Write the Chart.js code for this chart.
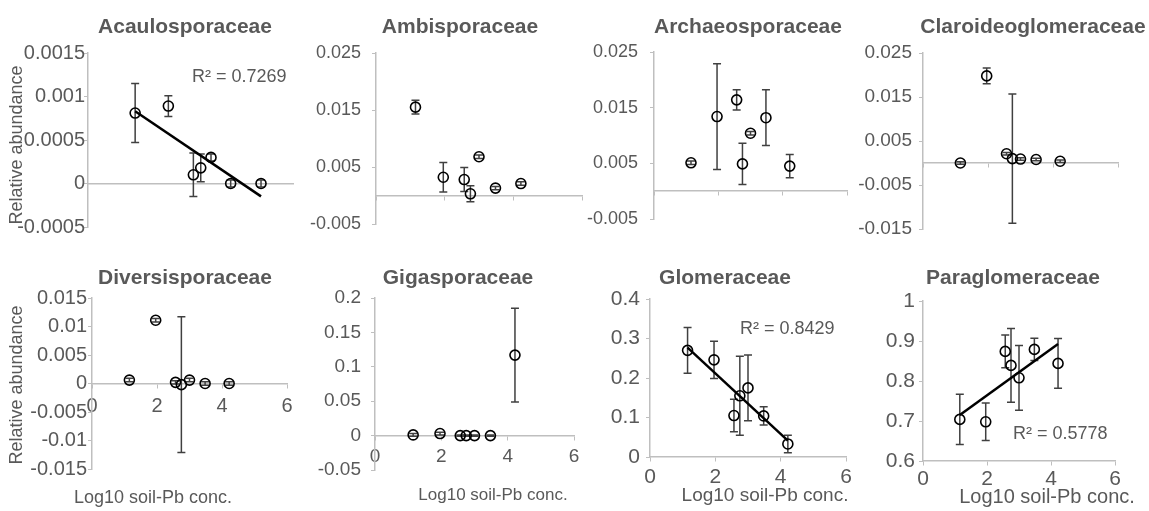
<!DOCTYPE html>
<html>
<head>
<meta charset="utf-8">
<script src="https://cdn.jsdelivr.net/npm/chart.js@4/dist/chart.umd.min.js"></script>
<style>
html,body{margin:0;padding:0;background:#fff;overflow:hidden;}
#painel{position:relative;width:1149px;height:511px;}
#painel canvas{position:absolute;left:0;top:0;}
</style>
</head>
<body>
<div id="painel"></div>
<script>

// =====================================
// DADOS
// =====================================

const logPb = [1.15, 1.96, 2.57, 2.75, 3.0, 3.48, 4.22];

const acaulo = [0.00081, 0.00089, 0.00010, 0.00018, 0.00030, 0.0000, 0.0000];
const acauloErr = [0.00034, 0.00012, 0.00025, 0.00016, 0.00004, 0.00004, 0.00004];

const ambis = [0.0155, 0.0032, 0.0028, 0.0003, 0.0068, 0.0013, 0.0021];
const ambisErr = [0.0012, 0.0026, 0.0021, 0.0014, 0.0003, 0.0003, 0.0003];

const archaeo = [0.0051, 0.0134, 0.0164, 0.0049, 0.0104, 0.0132, 0.0045];
const archaeoErr = [0.0003, 0.0095, 0.0018, 0.0037, 0.0003, 0.0050, 0.0021];

const claroideo = [0.0000, 0.0198, 0.0021, 0.0010, 0.0009, 0.0008, 0.0004];
const claroideoErr = [0.0003, 0.0018, 0.0003, 0.0147, 0.0003, 0.0003, 0.0003];

const divers = [0.0006, 0.0111, 0.0002, -0.0002, 0.0006, 0.0000, 0.0000];
const diversErr = [0.0003, 0.0003, 0.0003, 0.0119, 0.0003, 0.0003, 0.0003];

const gigas = [0.001, 0.003, 0.000, 0.000, 0.000, 0.000, 0.117];
const gigasErr = [0.002, 0.002, 0.001, 0.001, 0.001, 0.001, 0.068];

const glom = [0.270, 0.246, 0.105, 0.155, 0.175, 0.104, 0.033];
const glomErr = [0.058, 0.047, 0.041, 0.100, 0.083, 0.023, 0.022];

const paraglom = [0.704, 0.698, 0.874, 0.839, 0.808, 0.879, 0.844];
const paraglomErr = [0.063, 0.047, 0.041, 0.092, 0.081, 0.028, 0.062];

// ticks
const ticksAcaulo = [-0.0005, 0, 0.0005, 0.001, 0.0015];
const ticksAmbis = [-0.005, 0.005, 0.015, 0.025];
const ticksArchaeo = [-0.005, 0.005, 0.015, 0.025];
const ticksClaroideo = [-0.015, -0.005, 0.005, 0.015, 0.025];
const ticksDivers = [-0.015, -0.01, -0.005, 0, 0.005, 0.01, 0.015];
const ticksGigas = [-0.05, 0, 0.05, 0.1, 0.15, 0.2];
const ticksGlom = [0, 0.1, 0.2, 0.3, 0.4];
const ticksParaglom = [0.6, 0.7, 0.8, 0.9, 1];

const ticksX5 = [0, 1, 2, 3, 4, 5];
const ticksX6 = [0, 2, 4, 6];

const tituloX = "Log10 soil-Pb conc.";
const tituloY = "Relative abundance";


// =====================================
// PAINEIS (layout)
// =====================================

const paineis = [
    {nome:"Acaulosporaceae", y:acaulo, err:acauloErr, ticks:ticksAcaulo, xt:ticksX5,
     area:[88,53,293,227], titulo:[185,27], fonte:20, gap:3, marcasX:false, rotX:false,
     r2:["R² = 0.7269",192,77], yTit:[17,145]},
    {nome:"Ambisporaceae", y:ambis, err:ambisErr, ticks:ticksAmbis, xt:ticksX6,
     area:[376,53,582,224], titulo:[460,27], fonte:18, gap:15, marcasX:true, rotX:false},
    {nome:"Archaeosporaceae", y:archaeo, err:archaeoErr, ticks:ticksArchaeo, xt:ticksX6,
     area:[654,52,847,219], titulo:[748,27], fonte:18, gap:16, marcasX:true, rotX:false},
    {nome:"Claroideoglomeraceae", y:claroideo, err:claroideoErr, ticks:ticksClaroideo, xt:ticksX6,
     area:[923,53,1118,229], titulo:[1033,27], fonte:19, gap:11, marcasX:true, rotX:false},
    {nome:"Diversisporaceae", y:divers, err:diversErr, ticks:ticksDivers, xt:ticksX6,
     area:[92,298,287,469], titulo:[185,278], fonte:20, gap:5, marcasX:true, rotX:true, padX:7,
     xTit:[153,498,18], yTit:[17,385]},
    {nome:"Gigasporaceae", y:gigas, err:gigasErr, ticks:ticksGigas, xt:ticksX6,
     area:[375,298,574,470], titulo:[458,278], fonte:19, gap:14, marcasX:true, rotX:true, padX:6,
     xTit:[493,495,17]},
    {nome:"Glomeraceae", y:glom, err:glomErr, ticks:ticksGlom, xt:ticksX6,
     area:[650,299,846,457], titulo:[725,278], fonte:21, gap:10, marcasX:true, rotX:true, padX:4,
     xTit:[765,496,19], r2:["R² = 0.8429",740,329]},
    {nome:"Paraglomeraceae", y:paraglom, err:paraglomErr, ticks:ticksParaglom, xt:ticksX6,
     area:[923,301,1115,461], titulo:[1013,278], fonte:21, gap:8, marcasX:true, rotX:true, padX:2,
     xTit:[1047,497,20], r2:["R² = 0.5778",1013,434]}
];

const FONTE = "'Liberation Sans', Arial, sans-serif";
const CINZA = "#595959";
const EIXO = "#bfbfbf";

Chart.defaults.font.family = FONTE;
Chart.defaults.color = CINZA;


// =====================================
// TENDENCIA (minimos quadrados)
// =====================================

function tendencia(xs, ys){

    const n = xs.length;
    const mx = xs.reduce((a,b)=>a+b,0)/n;
    const my = ys.reduce((a,b)=>a+b,0)/n;

    let sxy = 0, sxx = 0;

    xs.forEach((x,i)=>{
        sxy += (x-mx)*(ys[i]-my);
        sxx += (x-mx)*(x-mx);
    });

    const b = sxy/sxx;
    const a = my - b*mx;
    const x0 = Math.min(...xs);
    const x1 = Math.max(...xs);

    return [{x:x0, y:a+b*x0}, {x:x1, y:a+b*x1}];

}


// =====================================
// BARRAS DE ERRO
// =====================================

const barrasErro = {

    id:"barrasErro",

    beforeDatasetsDraw(chart){

        const {ctx, scales:{x, y}} = chart;

        chart.data.datasets.forEach(ds=>{

            if(!ds.erros) return;

            ctx.save();
            ctx.strokeStyle = "#404040";
            ctx.lineWidth = 1.5;

            ds.data.forEach((pt,k)=>{

                const e = ds.erros[k];
                const px = x.getPixelForValue(pt.x);
                const topo = y.getPixelForValue(pt.y + e);
                const base = y.getPixelForValue(pt.y - e);

                ctx.beginPath();
                ctx.moveTo(px, topo); ctx.lineTo(px, base);
                ctx.moveTo(px-4, topo); ctx.lineTo(px+4, topo);
                ctx.moveTo(px-4, base); ctx.lineTo(px+4, base);
                ctx.stroke();

            });

            ctx.restore();

        });

    }

};


// =====================================
// TEXTOS
// =====================================

function textos(p){

    return {

        id:"textos",

        afterDraw(chart){

            const ctx = chart.ctx;

            ctx.save();
            ctx.fillStyle = CINZA;
            ctx.textBaseline = "middle";

            ctx.textAlign = "center";
            ctx.font = "bold 21px " + FONTE;
            ctx.fillText(p.nome, p.titulo[0], p.titulo[1]);

            if(p.r2){
                ctx.textAlign = "left";
                ctx.font = "18px " + FONTE;
                ctx.fillText(p.r2[0], p.r2[1], p.r2[2]);
            }

            if(p.xTit){
                ctx.textAlign = "center";
                ctx.font = p.xTit[2] + "px " + FONTE;
                ctx.fillText(tituloX, p.xTit[0], p.xTit[1]);
            }

            if(p.yTit){
                ctx.translate(p.yTit[0], p.yTit[1]);
                ctx.rotate(-Math.PI/2);
                ctx.textAlign = "center";
                ctx.font = "18px " + FONTE;
                ctx.fillText(tituloY, 0, 0);
            }

            ctx.restore();

        }

    };

}


// =====================================
// GRAFICOS
// =====================================

const painel = document.getElementById("painel");

paineis.forEach(p=>{

    const canvas = document.createElement("canvas");
    canvas.width = 1149;
    canvas.height = 511;
    painel.appendChild(canvas);

    const [l, t, r, b] = p.area;
    const larguraY = 84;

    const datasets = [{

        type:"scatter",
        data:logPb.map((x,k)=>({x, y:p.y[k]})),
        erros:p.err,
        pointRadius:5,
        pointBorderWidth:1.6,
        borderColor:"#000",
        backgroundColor:"rgba(0,0,0,0)",
        order:1

    }];

    if(p.r2){

        datasets.push({
            type:"line",
            data:tendencia(logPb, p.y),
            borderColor:"#000",
            borderWidth:2.5,
            pointRadius:0,
            order:0
        });

    }

    new Chart(canvas,{

        type:"scatter",

        data:{datasets},

        options:{

            responsive:false,
            animation:false,

            layout:{
                padding:{left:l-larguraY, top:t, right:1149-r, bottom:511-b}
            },

            plugins:{
                legend:{display:false},
                tooltip:{enabled:false}
            },

            scales:{

                x:{
                    type:"linear",
                    min:p.xt[0],
                    max:p.xt[p.xt.length-1],
                    position:{y:Math.max(0, p.ticks[0])},
                    afterBuildTicks:s=>{ s.ticks = p.xt.map(v=>({value:v})); },
                    afterFit:s=>{ s.paddingLeft = 0; s.paddingRight = 0; },
                    grid:{
                        drawOnChartArea:false,
                        drawTicks:p.marcasX,
                        tickLength:4,
                        color:EIXO
                    },
                    border:{color:EIXO, width:1.5},
                    ticks:{
                        display:p.rotX,
                        autoSkip:false,
                        maxRotation:0,
                        padding:p.padX || 0,
                        color:CINZA,
                        font:{size:p.fonte}
                    }
                },

                y:{
                    type:"linear",
                    min:p.ticks[0],
                    max:p.ticks[p.ticks.length-1],
                    afterBuildTicks:s=>{ s.ticks = p.ticks.map(v=>({value:v})); },
                    afterFit:s=>{ s.width = larguraY; s.paddingTop = 0; s.paddingBottom = 0; },
                    grid:{
                        drawOnChartArea:false,
                        tickLength:4,
                        color:EIXO
                    },
                    border:{color:EIXO, width:1.5},
                    ticks:{
                        autoSkip:false,
                        padding:p.gap-4,
                        color:CINZA,
                        font:{size:p.fonte},
                        callback:v=>String(+Number(v).toFixed(6))
                    }
                }

            }

        },

        plugins:[barrasErro, textos(p)]

    });

});

</script>
</body>
</html>
